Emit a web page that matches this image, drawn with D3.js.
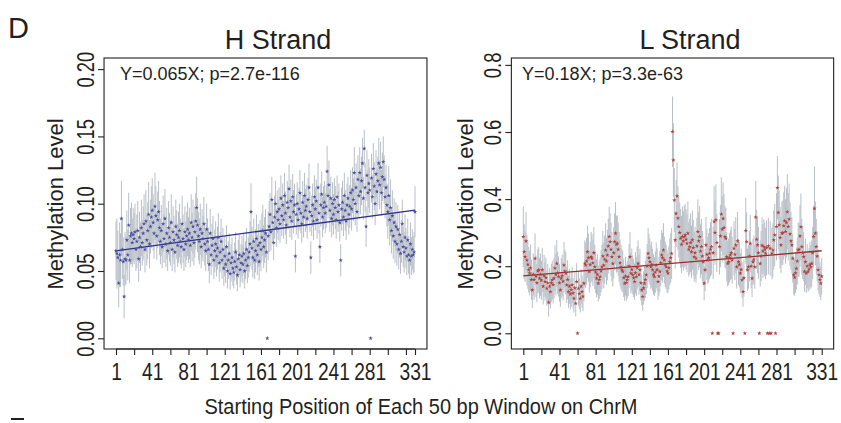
<!DOCTYPE html>
<html><head><meta charset="utf-8">
<script src="https://cdn.jsdelivr.net/npm/d3@7"></script>
<style>
body{margin:0;background:#fff}
svg{display:block}
text{font-family:"Liberation Sans",Arial,Helvetica,sans-serif;fill:#231f20}
</style>
</head><body>
<svg id="c" width="841" height="423"></svg>
<script>
// ---------- DATA ----------
const panelTitles = ["H Strand", "L Strand"];
const annotations = ["Y=0.065X; p=2.7e-116", "Y=0.18X; p=3.3e-63"];
const xAxisTitle = "Starting Position of Each 50 bp Window on ChrM";
const yAxisTitle = "Methylation Level";
const xTickValues = [1,21,41,61,81,101,121,141,161,181,201,221,241,261,281,301,321,331];
const xTickLabels = [1,41,81,121,161,201,241,281,331];
const hYTicks = [0, 0.05, 0.10, 0.15, 0.20];
const lYTicks = [0, 0.2, 0.4, 0.6, 0.8];
// regression line end values at window 1 and window 331
const hFit = [0.065, 0.0953];
const lFit = [0.171, 0.246];

const hValues = [
0.065,0.063,0.060,0.041,0.062,0.058,0.089,0.066,0.057,0.031,
0.059,0.058,0.073,0.062,0.084,0.058,0.076,0.078,0.071,0.077,
0.074,0.079,0.066,0.072,0.080,0.059,0.075,0.068,0.082,0.071,
0.078,0.085,0.066,0.087,0.073,0.080,0.092,0.070,0.083,0.090,
0.095,0.086,0.078,0.098,0.091,0.076,0.088,0.094,0.082,0.072,
0.080,0.068,0.085,0.074,0.089,0.070,0.078,0.065,0.082,0.075,
0.071,0.086,0.066,0.079,0.073,0.064,0.083,0.077,0.069,0.075,
0.080,0.072,0.068,0.085,0.074,0.066,0.079,0.070,0.076,0.081,
0.073,0.078,0.069,0.086,0.075,0.083,0.071,0.079,0.087,0.097,
0.084,0.076,0.072,0.081,0.068,0.078,0.074,0.085,0.070,0.065,
0.081,0.072,0.066,0.055,0.078,0.062,0.069,0.074,0.058,0.065,
0.070,0.061,0.067,0.075,0.056,0.064,0.072,0.058,0.066,0.052,
0.061,0.055,0.068,0.050,0.058,0.063,0.048,0.056,0.060,0.052,
0.049,0.057,0.064,0.053,0.047,0.059,0.062,0.051,0.056,0.061,
0.055,0.063,0.050,0.058,0.066,0.054,0.060,0.064,0.070,0.094,
0.067,0.060,0.072,0.058,0.065,0.074,0.062,0.069,0.057,0.071,
0.066,0.075,0.080,0.068,0.073,0.078,0.064,0.000,0.076,0.083,
0.092,0.079,0.103,0.086,0.071,0.090,0.100,0.082,0.094,0.088,
0.096,0.085,0.104,0.091,0.099,0.088,0.106,0.093,0.084,0.101,
0.097,0.111,0.090,0.102,0.087,0.105,0.094,0.099,0.061,0.092,
0.100,0.088,0.096,0.108,0.093,0.085,0.101,0.090,0.106,0.095,
0.098,0.089,0.103,0.112,0.094,0.060,0.091,0.099,0.087,0.105,
0.096,0.102,0.088,0.112,0.093,0.068,0.099,0.107,0.090,0.097,
0.101,0.093,0.098,0.124,0.106,0.114,0.095,0.104,0.089,0.100,
0.092,0.103,0.097,0.088,0.105,0.094,0.099,0.086,0.058,0.096,
0.101,0.090,0.106,0.095,0.087,0.099,0.104,0.092,0.098,0.108,
0.096,0.110,0.103,0.123,0.100,0.112,0.094,0.118,0.106,0.123,
0.109,0.117,0.130,0.104,0.141,0.112,0.083,0.121,0.108,0.115,
0.110,0.000,0.119,0.105,0.126,0.113,0.100,0.122,0.109,0.117,
0.130,0.114,0.127,0.108,0.120,0.131,0.118,0.105,0.112,0.099,
0.094,0.106,0.088,0.097,0.080,0.091,0.076,0.086,0.072,0.083,
0.070,0.081,0.066,0.077,0.063,0.072,0.085,0.068,0.064,0.075,
0.067,0.061,0.073,0.062,0.058,0.070,0.061,0.066,0.062,0.064,0.094];

const hErr = [
0.022,0.026,0.020,0.018,0.024,0.020,0.028,0.022,0.018,0.016,
0.020,0.018,0.022,0.019,0.024,0.017,0.021,0.023,0.018,0.020,
0.019,0.021,0.016,0.020,0.022,0.017,0.019,0.018,0.021,0.017,
0.020,0.022,0.017,0.023,0.019,0.021,0.024,0.018,0.020,0.023,
0.024,0.021,0.019,0.025,0.022,0.018,0.021,0.023,0.020,0.017,
0.019,0.016,0.021,0.018,0.022,0.017,0.019,0.015,0.020,0.018,
0.017,0.021,0.016,0.019,0.018,0.015,0.020,0.018,0.016,0.019,
0.020,0.017,0.016,0.021,0.018,0.016,0.019,0.017,0.018,0.020,
0.017,0.019,0.016,0.021,0.018,0.020,0.017,0.019,0.021,0.023,
0.020,0.018,0.017,0.019,0.016,0.018,0.017,0.020,0.016,0.015,
0.019,0.017,0.016,0.014,0.018,0.015,0.016,0.017,0.014,0.016,
0.017,0.015,0.016,0.018,0.014,0.015,0.017,0.014,0.016,0.013,
0.015,0.014,0.016,0.013,0.014,0.015,0.012,0.014,0.015,0.013,
0.012,0.014,0.015,0.013,0.012,0.014,0.015,0.013,0.014,0.015,
0.014,0.015,0.013,0.014,0.016,0.013,0.015,0.015,0.017,0.021,
0.016,0.015,0.017,0.014,0.016,0.018,0.015,0.016,0.014,0.017,
0.016,0.018,0.019,0.016,0.017,0.018,0.015,0.000,0.018,0.019,
0.016,0.014,0.017,0.015,0.013,0.016,0.017,0.014,0.016,0.015,
0.016,0.014,0.017,0.015,0.016,0.014,0.017,0.016,0.014,0.016,
0.016,0.018,0.015,0.016,0.014,0.017,0.016,0.016,0.012,0.015,
0.016,0.014,0.016,0.017,0.015,0.014,0.016,0.015,0.017,0.016,
0.016,0.015,0.016,0.018,0.015,0.012,0.015,0.016,0.014,0.016,
0.016,0.016,0.014,0.018,0.015,0.012,0.016,0.017,0.015,0.016,
0.016,0.015,0.016,0.019,0.017,0.018,0.016,0.016,0.014,0.016,
0.015,0.016,0.016,0.014,0.016,0.015,0.016,0.014,0.012,0.016,
0.016,0.014,0.017,0.015,0.014,0.016,0.016,0.015,0.016,0.017,
0.016,0.017,0.016,0.019,0.016,0.018,0.015,0.018,0.016,0.019,
0.017,0.018,0.019,0.016,0.014,0.018,0.015,0.019,0.017,0.018,
0.017,0.000,0.018,0.016,0.019,0.018,0.016,0.018,0.017,0.018,
0.019,0.018,0.019,0.017,0.018,0.019,0.018,0.016,0.017,0.016,
0.020,0.022,0.019,0.021,0.017,0.019,0.017,0.018,0.016,0.018,
0.016,0.018,0.015,0.017,0.015,0.016,0.018,0.015,0.015,0.017,
0.015,0.014,0.016,0.014,0.014,0.016,0.014,0.015,0.014,0.015,0.019];

const lValues = [
0.288,0.243,0.228,0.275,0.218,0.205,0.189,0.179,0.195,0.160,
0.129,0.175,0.160,0.223,0.170,0.150,0.185,0.189,0.164,0.175,
0.158,0.189,0.140,0.172,0.154,0.166,0.134,0.150,0.092,0.140,
0.124,0.150,0.159,0.145,0.164,0.194,0.175,0.208,0.180,0.169,
0.150,0.129,0.164,0.172,0.155,0.203,0.185,0.179,0.144,0.160,
0.124,0.140,0.117,0.130,0.144,0.120,0.104,0.135,0.089,0.154,
0.000,0.134,0.118,0.104,0.140,0.124,0.110,0.149,0.208,0.203,
0.215,0.243,0.225,0.184,0.205,0.228,0.223,0.210,0.240,0.198,
0.182,0.164,0.175,0.149,0.160,0.169,0.185,0.198,0.230,0.203,
0.220,0.248,0.215,0.233,0.260,0.288,0.273,0.250,0.228,0.208,
0.240,0.273,0.298,0.265,0.268,0.250,0.228,0.210,0.198,0.189,
0.184,0.165,0.149,0.170,0.151,0.160,0.169,0.200,0.228,0.179,
0.190,0.174,0.165,0.154,0.180,0.169,0.195,0.208,0.175,0.189,
0.150,0.129,0.109,0.135,0.149,0.160,0.174,0.200,0.238,0.225,
0.213,0.198,0.205,0.189,0.175,0.169,0.182,0.203,0.190,0.154,
0.170,0.184,0.210,0.233,0.225,0.248,0.218,0.205,0.198,0.185,
0.179,0.195,0.213,0.225,0.238,0.601,0.516,0.397,0.278,0.357,
0.409,0.343,0.318,0.300,0.283,0.265,0.288,0.275,0.288,0.293,
0.280,0.268,0.298,0.250,0.258,0.270,0.243,0.278,0.255,0.228,
0.240,0.223,0.260,0.303,0.275,0.288,0.245,0.258,0.230,0.213,
0.149,0.189,0.263,0.235,0.218,0.225,0.238,0.250,0.258,0.000,
0.240,0.333,0.300,0.338,0.270,0.000,0.000,0.258,0.290,0.355,
0.310,0.342,0.315,0.288,0.283,0.228,0.208,0.213,0.225,0.233,
0.240,0.218,0.000,0.253,0.235,0.263,0.198,0.275,0.213,0.205,
0.179,0.190,0.159,0.124,0.165,0.000,0.306,0.273,0.189,0.198,
0.230,0.268,0.200,0.164,0.213,0.220,0.198,0.346,0.280,0.263,
0.240,0.000,0.208,0.230,0.262,0.245,0.258,0.250,0.238,0.255,
0.000,0.260,0.000,0.253,0.000,0.238,0.248,0.278,0.293,0.000,
0.318,0.434,0.360,0.323,0.285,0.263,0.298,0.300,0.320,0.335,
0.303,0.330,0.362,0.318,0.340,0.296,0.275,0.263,0.223,0.174,
0.167,0.180,0.193,0.215,0.248,0.250,0.290,0.317,0.258,0.240,
0.228,0.184,0.213,0.179,0.200,0.184,0.191,0.205,0.198,0.208,
0.240,0.288,0.372,0.298,0.258,0.230,0.189,0.174,0.160,0.149,0.170];

const lErr = [
0.090,0.082,0.075,0.087,0.075,0.072,0.068,0.066,0.069,0.060,
0.054,0.063,0.060,0.075,0.062,0.057,0.066,0.068,0.060,0.063,
0.058,0.066,0.054,0.062,0.057,0.060,0.052,0.057,0.042,0.054,
0.050,0.057,0.058,0.056,0.060,0.068,0.062,0.070,0.063,0.060,
0.056,0.050,0.060,0.062,0.057,0.069,0.064,0.063,0.054,0.058,
0.048,0.052,0.046,0.051,0.054,0.046,0.042,0.051,0.039,0.055,
0.000,0.051,0.046,0.042,0.052,0.048,0.044,0.054,0.069,0.068,
0.070,0.078,0.072,0.063,0.068,0.074,0.072,0.069,0.076,0.066,
0.062,0.057,0.060,0.054,0.057,0.058,0.063,0.066,0.075,0.068,
0.072,0.080,0.070,0.075,0.082,0.090,0.085,0.080,0.074,0.069,
0.076,0.085,0.093,0.084,0.084,0.080,0.074,0.069,0.066,0.063,
0.062,0.057,0.052,0.058,0.054,0.056,0.058,0.066,0.074,0.060,
0.063,0.058,0.057,0.054,0.062,0.058,0.064,0.069,0.060,0.063,
0.052,0.046,0.042,0.050,0.052,0.055,0.058,0.066,0.076,0.072,
0.069,0.066,0.068,0.063,0.060,0.058,0.062,0.068,0.063,0.054,
0.058,0.062,0.069,0.075,0.074,0.080,0.070,0.068,0.066,0.063,
0.060,0.064,0.070,0.074,0.076,0.105,0.110,0.095,0.085,0.100,
0.100,0.095,0.092,0.090,0.088,0.085,0.090,0.088,0.092,0.093,
0.090,0.086,0.095,0.081,0.083,0.087,0.078,0.088,0.083,0.074,
0.078,0.072,0.084,0.096,0.087,0.092,0.080,0.083,0.075,0.069,
0.051,0.063,0.084,0.076,0.070,0.074,0.076,0.081,0.083,0.000,
0.078,0.105,0.096,0.106,0.087,0.000,0.000,0.083,0.093,0.110,
0.099,0.108,0.100,0.092,0.090,0.074,0.068,0.069,0.074,0.075,
0.078,0.070,0.000,0.081,0.076,0.084,0.065,0.087,0.069,0.068,
0.060,0.063,0.054,0.045,0.056,0.000,0.098,0.087,0.063,0.065,
0.075,0.085,0.066,0.056,0.069,0.072,0.065,0.108,0.088,0.084,
0.078,0.000,0.069,0.075,0.084,0.080,0.082,0.081,0.077,0.082,
0.000,0.084,0.000,0.081,0.000,0.077,0.080,0.088,0.093,0.000,
0.100,0.094,0.110,0.102,0.092,0.084,0.095,0.096,0.100,0.105,
0.096,0.104,0.112,0.100,0.106,0.095,0.087,0.084,0.072,0.058,
0.055,0.060,0.063,0.070,0.080,0.081,0.092,0.100,0.083,0.078,
0.073,0.060,0.069,0.058,0.066,0.060,0.063,0.068,0.065,0.069,
0.078,0.092,0.125,0.095,0.083,0.075,0.062,0.057,0.052,0.050,0.055];

// ---------- DRAW ----------
const svg = d3.select("#c");
const ink = "#231f20";
const barColor = "#b9bfc7";

const panels = [
  {vals:hValues, err:hErr, fit:hFit, title:panelTitles[0], ann:annotations[0],
   x:d3.scaleLinear().domain([1,331]).range([116,415]),
   y:d3.scaleLinear().domain([0,0.2]).range([338.3,69.1]),
   yTicks:hYTicks, fmt:d3.format(".2f"), dot:"#4a4ea0", line:"#2b2f8c",
   titleX:278, annX:120, yTitleX:63},
  {vals:lValues, err:lErr, fit:lFit, title:panelTitles[1], ann:annotations[1],
   x:d3.scaleLinear().domain([1,331]).range([523.3,821.7]),
   y:d3.scaleLinear().domain([0,0.8]).range([333.3,64.9]),
   yTicks:lYTicks, fmt:d3.format(".1f"), dot:"#b0413d", line:"#9b2b24",
   titleX:690, annX:522, yTitleX:473}
];

const boxTop = 58, boxBottom = 349;

panels.forEach(p => {
  const g = svg.append("g");
  const data = p.vals.map((v,i)=>({w:i+1, v, e:p.err[i]}));
  const x0 = p.x(1-13.2), x1 = p.x(331+13.2);

  // error bars
  g.append("g").selectAll("line").data(data.filter(d=>d.e>0)).join("line")
    .attr("x1", d=>p.x(d.w)).attr("x2", d=>p.x(d.w))
    .attr("y1", d=>p.y(d.v-d.e)).attr("y2", d=>p.y(d.v+d.e))
    .attr("stroke", barColor).attr("stroke-width", 1);

  // regression line
  g.append("line")
    .attr("x1", p.x(1)).attr("x2", p.x(331))
    .attr("y1", p.y(p.fit[0])).attr("y2", p.y(p.fit[1]))
    .attr("stroke", p.line).attr("stroke-width", 1.3);

  // points
  const sym = d3.symbol(d3.symbolStar).size(6);
  g.append("g").selectAll("path").data(data).join("path")
    .attr("transform", d=>`translate(${p.x(d.w)},${p.y(d.v)})`)
    .attr("d", sym).attr("fill", p.dot);

  // box
  g.append("rect").attr("x", x0).attr("y", boxTop)
    .attr("width", x1-x0).attr("height", boxBottom-boxTop)
    .attr("fill","none").attr("stroke", ink).attr("stroke-width", 1.1);

  // x axis
  const xa = g.append("g").attr("transform", `translate(0,${boxBottom})`)
    .call(d3.axisBottom(p.x).tickValues(xTickValues).tickSize(6).tickSizeOuter(0)
      .tickFormat(d => xTickLabels.includes(d) ? d : ""));
  xa.select(".domain").attr("d", `M${p.x(1)},0H${p.x(331)}`).attr("stroke", ink).attr("stroke-width",1.1);
  xa.selectAll(".tick line").attr("stroke", ink).attr("stroke-width",1.1);
  xa.selectAll(".tick text").attr("fill", ink).attr("font-size", 24)
    .attr("font-family", '"Liberation Sans",Arial,sans-serif')
    .attr("y", 31).attr("dy", 0).attr("transform","scale(0.8,1)");

  // y axis
  const ya = g.append("g").attr("transform", `translate(${x0},0)`)
    .call(d3.axisLeft(p.y).tickValues(p.yTicks).tickSize(6).tickFormat(p.fmt));
  ya.select(".domain").remove();
  ya.selectAll(".tick line").attr("stroke", ink).attr("stroke-width",1.1);
  ya.selectAll(".tick text").attr("fill", ink).attr("font-size", 23)
    .attr("font-family", '"Liberation Sans",Arial,sans-serif')
    .attr("x", 0).attr("y", -10).attr("dy", 0)
    .attr("text-anchor","middle").attr("transform","rotate(-90) scale(0.8,1)");

  // titles
  svg.append("text").attr("x", p.titleX).attr("y", 49).attr("text-anchor","middle")
    .attr("font-size", 27).text(p.title);
  svg.append("text").attr("x", p.annX).attr("y", 80).attr("font-size", 18).text(p.ann);
  svg.append("text").attr("transform", `translate(${p.yTitleX},204) rotate(-90)`)
    .attr("text-anchor","middle").attr("font-size", 22).text(yAxisTitle);
});

svg.append("text").attr("x", 421).attr("y", 414).attr("text-anchor","middle")
  .attr("font-size", 22).attr("textLength", 433).attr("lengthAdjust","spacingAndGlyphs")
  .text(xAxisTitle);
svg.append("text").attr("x", 8).attr("y", 38).attr("font-size", 29).text("D");
svg.append("line").attr("x1", 11).attr("x2", 24).attr("y1", 419).attr("y2", 419)
  .attr("stroke", ink).attr("stroke-width", 2);
</script>
</body></html>
